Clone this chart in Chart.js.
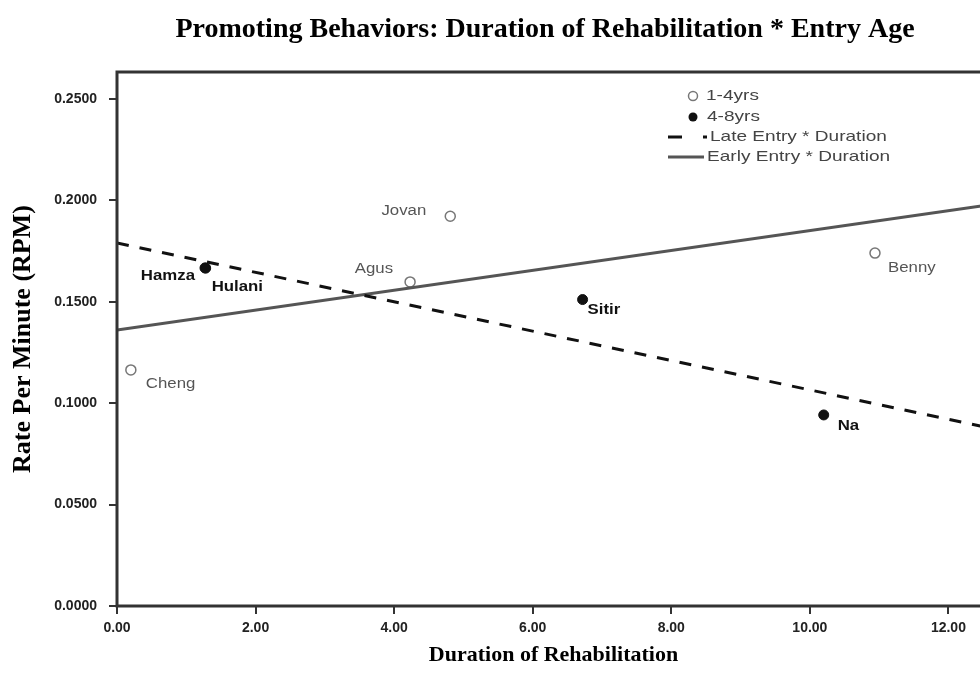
<!DOCTYPE html>
<html>
<head>
<meta charset="utf-8">
<script src="https://cdn.jsdelivr.net/npm/chart.js@4/dist/chart.umd.min.js"></script>
<style>
  html, body { margin: 0; padding: 0; background: #fff; overflow: hidden; }
  #wrap { width: 1090px; height: 675px; }
</style>
</head>
<body>
<div id="wrap"><canvas id="rehabChart"></canvas></div>
<script>
// cases aged 1-4 years at entry (open markers)
const youngNames = ['Cheng', 'Agus', 'Jovan', 'Benny'];
const youngDuration = [0.2, 4.23, 4.81, 10.94];
const youngRate = [0.1164, 0.1598, 0.1922, 0.174];

// cases aged 4-8 years at entry (filled markers)
const oldNames = ['Hamza', 'Hulani', 'Sitir', 'Na'];
const oldDuration = [1.27, 1.28, 6.72, 10.2];
const oldRate = [0.1667, 0.1666, 0.1511, 0.0942];

// fitted lines, value at each end of the x range
const lineX = [0, 12.6];
const lateEntry = [0.179, 0.0877];
const earlyEntry = [0.1361, 0.1979];

const xTicks = [0, 2, 4, 6, 8, 10, 12];
const yTicks = [0, 0.05, 0.1, 0.15, 0.2, 0.25];

// label placement per point: [dx, dy, align]
const youngLabelPos = [[15, 14, 'left'], [-17, -13, 'right'], [-24, -5, 'right'], [13, 15, 'left']];
const oldLabelPos = [[-10, 8, 'right'], [6, 19, 'left'], [5, 11, 'left'], [14, 11, 'left']];

function pts(xs, ys) {
    return xs.map((x, i) => ({ x: x, y: ys[i] }));
}

// the source text is a little wider than normal
function wideText(ctx, txt, x, y, align, k) {
    ctx.save();
    ctx.translate(x, y);
    ctx.scale(k, 1);
    ctx.textAlign = align;
    ctx.fillText(txt, 0, 0);
    ctx.restore();
}

const pointLabels = {
    id: 'pointLabels',
    afterDatasetsDraw(chart) {
        const ctx = chart.ctx;
        const sets = [
            { idx: 2, names: youngNames, pos: youngLabelPos, font: '14px "Liberation Sans", Arial', color: '#555' },
            { idx: 3, names: oldNames, pos: oldLabelPos, font: 'bold 14px "Liberation Sans", Arial', color: '#111' }
        ];
        ctx.save();
        ctx.textBaseline = 'middle';
        sets.forEach(s => {
            const meta = chart.getDatasetMeta(s.idx);
            meta.data.forEach((el, i) => {
                const p = s.pos[i];
                ctx.font = s.font;
                ctx.fillStyle = s.color;
                wideText(ctx, s.names[i], el.x + p[0], el.y + p[1], p[2], 1.2);
            });
        });
        ctx.restore();
    }
};

const frameAndLegend = {
    id: 'frameAndLegend',
    afterDraw(chart) {
        const ctx = chart.ctx;
        const a = chart.chartArea;
        ctx.save();
        ctx.strokeStyle = '#333';
        ctx.lineWidth = 3;
        ctx.strokeRect(a.left, a.top, a.right - a.left, a.bottom - a.top);

        // legend in top-right of the plot
        ctx.font = '15px "Liberation Sans", Arial';
        ctx.textBaseline = 'middle';

        ctx.beginPath();
        ctx.arc(693, 96, 4.5, 0, Math.PI * 2);
        ctx.fillStyle = '#fff';
        ctx.fill();
        ctx.strokeStyle = '#777';
        ctx.lineWidth = 1.5;
        ctx.stroke();
        ctx.fillStyle = '#444';
        wideText(ctx, '1-4yrs', 706, 96, 'left', 1.27);

        ctx.beginPath();
        ctx.arc(693, 117, 4.5, 0, Math.PI * 2);
        ctx.fillStyle = '#111';
        ctx.fill();
        ctx.fillStyle = '#444';
        wideText(ctx, '4-8yrs', 707, 117, 'left', 1.27);

        ctx.strokeStyle = '#111';
        ctx.lineWidth = 3;
        ctx.setLineDash([14, 21]);
        ctx.beginPath();
        ctx.moveTo(668, 137);
        ctx.lineTo(707, 137);
        ctx.stroke();
        ctx.setLineDash([]);
        wideText(ctx, 'Late Entry * Duration', 710, 137, 'left', 1.27);

        ctx.strokeStyle = '#555';
        ctx.beginPath();
        ctx.moveTo(668, 157);
        ctx.lineTo(704, 157);
        ctx.stroke();
        wideText(ctx, 'Early Entry * Duration', 707, 157, 'left', 1.27);
        ctx.restore();
    }
};

const ctx1 = document.getElementById('rehabChart').getContext('2d');
const rehabChart = new Chart(ctx1, {
    type: 'scatter',
    data: {
        datasets: [
            {
                label: 'Late Entry * Duration',
                type: 'line',
                data: pts(lineX, lateEntry),
                borderColor: '#111',
                borderWidth: 3,
                borderDash: [12, 11],
                pointRadius: 0,
                fill: false
            },
            {
                label: 'Early Entry * Duration',
                type: 'line',
                data: pts(lineX, earlyEntry),
                borderColor: '#555',
                borderWidth: 3,
                pointRadius: 0,
                fill: false
            },
            {
                label: '1-4yrs',
                data: pts(youngDuration, youngRate),
                pointRadius: 5,
                pointBackgroundColor: '#fff',
                pointBorderColor: '#777',
                pointBorderWidth: 1.5
            },
            {
                label: '4-8yrs',
                data: pts(oldDuration, oldRate),
                pointRadius: 5,
                pointBackgroundColor: '#111',
                pointBorderColor: '#111',
                pointBorderWidth: 1
            }
        ]
    },
    options: {
        responsive: true,
        maintainAspectRatio: false,
        animation: false,
        layout: { padding: 0 },
        plugins: {
            legend: { display: false },
            tooltip: { enabled: false },
            title: {
                display: true,
                text: 'Promoting Behaviors: Duration of Rehabilitation * Entry Age',
                color: '#000',
                font: { family: '"Liberation Serif", "Times New Roman", serif', size: 28, weight: 'bold', lineHeight: 1.2 },
                padding: { top: 13, bottom: 25.4 }
            }
        },
        scales: {
            x: {
                type: 'linear',
                min: 0,
                max: 12.6,
                afterBuildTicks: s => { s.ticks = xTicks.map(v => ({ value: v })); },
                afterFit: s => { s.height = 69; },
                grid: { display: true, drawOnChartArea: false, tickLength: 8, color: '#333', lineWidth: 2 },
                border: { display: false },
                ticks: {
                    color: '#222',
                    padding: 6,
                    font: { family: '"Liberation Sans", Arial', size: 14, weight: 'bold' },
                    callback: v => v.toFixed(2)
                },
                title: {
                    display: true,
                    text: 'Duration of Rehabilitation',
                    color: '#000',
                    font: { family: '"Liberation Serif", "Times New Roman", serif', size: 22, weight: 'bold' },
                    padding: { top: 0, bottom: 6 }
                }
            },
            y: {
                type: 'linear',
                min: 0,
                max: 0.2633,
                afterBuildTicks: s => { s.ticks = yTicks.map(v => ({ value: v })); },
                afterFit: s => { s.width = 117; },
                grid: { display: true, drawOnChartArea: false, tickLength: 8, color: '#333', lineWidth: 2 },
                border: { display: false },
                ticks: {
                    color: '#222',
                    padding: 12,
                    font: { family: '"Liberation Sans", Arial', size: 14, weight: 'bold' },
                    callback: v => v.toFixed(4)
                },
                title: {
                    display: true,
                    text: 'Rate Per Minute (RPM)',
                    color: '#000',
                    font: { family: '"Liberation Serif", "Times New Roman", serif', size: 26, weight: 'bold' },
                    padding: { top: 8, bottom: 0 }
                }
            },
            // empty strip on the right so the plot runs past the visible edge
            rightSpace: {
                type: 'linear',
                position: 'right',
                display: true,
                afterFit: s => { s.width = 100; },
                grid: { display: false },
                border: { display: false },
                ticks: { display: false }
            }
        }
    },
    plugins: [pointLabels, frameAndLegend]
});
</script>
</body>
</html>
